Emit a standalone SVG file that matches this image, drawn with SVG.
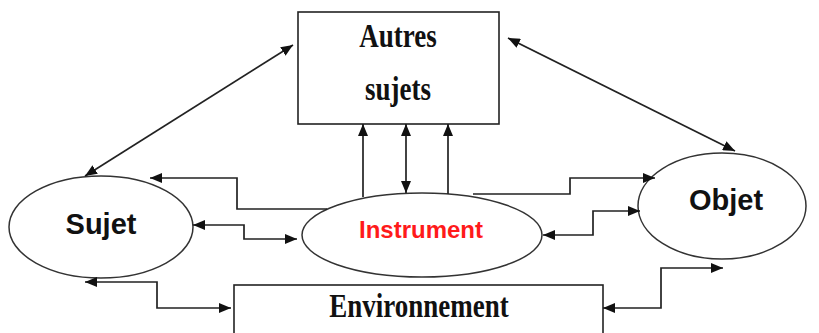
<svg xmlns="http://www.w3.org/2000/svg" width="819" height="333" viewBox="0 0 819 333">
<style>
.box{fill:#fff;stroke:#222;stroke-width:1.6}
.ell{fill:#fff;stroke:#333;stroke-width:1.5}
.serif{font-family:"Liberation Serif","Times New Roman",serif;font-weight:bold;font-size:27px;fill:#111;text-anchor:middle}
.sans{font-family:"Liberation Sans",Arial,sans-serif;font-weight:bold;text-anchor:middle;fill:#111}
.conn path{fill:none;stroke:#222;stroke-width:1.7}
.dbl{marker-start:url(#ah);marker-end:url(#ah)}
.one{marker-end:url(#ah)}
</style>
<defs>
<marker id="ah" markerUnits="userSpaceOnUse" markerWidth="12" markerHeight="10" refX="12" refY="5" orient="auto-start-reverse">
<path d="M0,0 L12,5 L0,10 z" fill="#111"/>
</marker>
</defs>
<rect width="819" height="333" fill="#fff"/>
<g id="autres">
<rect class="box" x="298" y="12" width="201" height="112"/>
<text class="serif" transform="translate(398,47) scale(1,1.22)">Autres</text>
<text class="serif" transform="translate(398,100) scale(1,1.22)">sujets</text>
</g>
<g id="environnement">
<rect class="box" x="234" y="285" width="369" height="60"/>
<text class="serif" transform="translate(419,317) scale(1,1.22)">Environnement</text>
</g>
<g id="sujet">
<ellipse class="ell" cx="101" cy="227" rx="92" ry="51"/>
<text class="sans" x="101" y="234" font-size="29">Sujet</text>
</g>
<g id="instrument">
<ellipse class="ell" cx="422" cy="235" rx="120" ry="42"/>
<text class="sans" x="421" y="238" font-size="24" style="fill:#ff1a1a">Instrument</text>
</g>
<g id="objet">
<ellipse class="ell" cx="722" cy="206" rx="84" ry="53"/>
<text class="sans" x="726" y="210" font-size="29">Objet</text>
</g>
<g id="connectors" class="conn">
<path class="dbl" d="M85,176 L293,45"/>
<path class="dbl" d="M508,38 L735,151"/>
<path class="one" d="M327,209 L237,209 L237,178 L150,178"/>
<path class="dbl" d="M193,225 L244,225 L244,239 L297,239"/>
<path class="dbl" d="M85,282 L157,282 L157,308 L231,308"/>
<path class="one" d="M473,194 L570,194 L570,178 L655,178"/>
<path class="dbl" d="M543,235 L593,235 L593,211 L640,211"/>
<path class="dbl" d="M603,308 L661,308 L661,268 L723,268"/>
<path class="one" d="M363,197 L363,124"/>
<path class="dbl" d="M406,124 L406,193"/>
<path class="one" d="M448,194 L448,124"/>
</g>
</svg>
